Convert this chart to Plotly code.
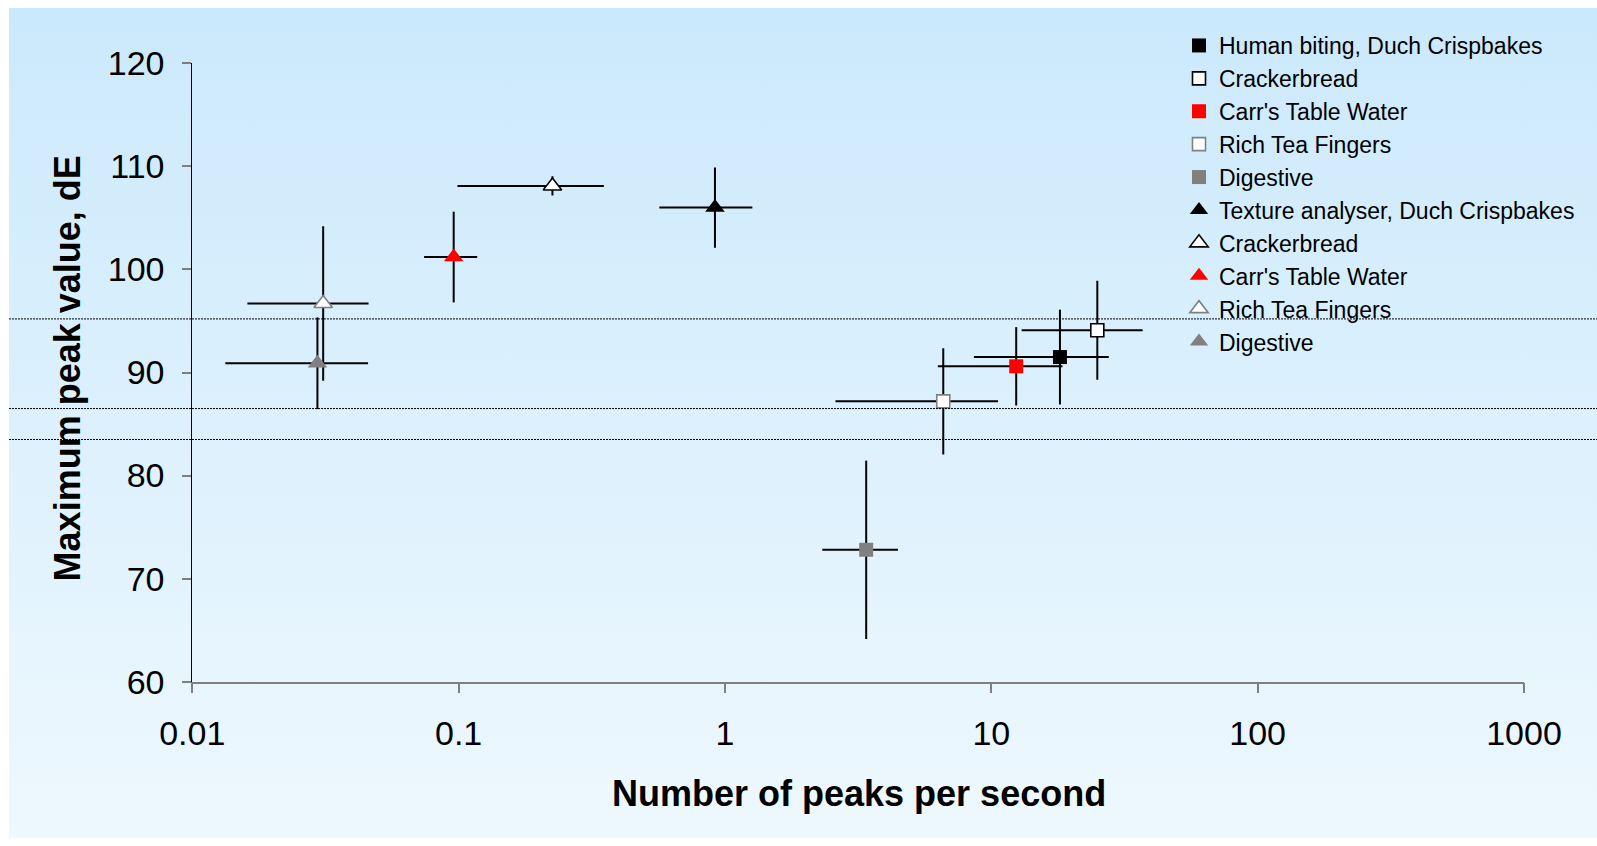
import plotly.graph_objects as go

# Maximum peak value versus number of peaks per second, for human biting
# (squares) and the texture analyser (triangles).
bite_names = ["Human biting, Duch Crispbakes", "Crackerbread", "Carr's Table Water",
              "Rich Tea Fingers", "Digestive"]
ta_names = ["Texture analyser, Duch Crispbakes", "Crackerbread", "Carr's Table Water",
            "Rich Tea Fingers", "Digestive"]

bite_rate = [18.1, 25.0, 12.4, 6.6, 3.39]
bite_rate_err = [9.5, 12.0, 6.1, 4.0, 1.07]
bite_peak = [91.5, 94.1, 90.6, 87.2, 72.8]
bite_peak_err = [4.6, 4.8, 3.8, 5.15, 8.65]

ta_rate = [0.917, 0.225, 0.0958, 0.031, 0.0295]
ta_rate_err = [0.35, 0.126, 0.0216, 0.0149, 0.0162]
ta_peak = [106.0, 108.1, 101.2, 96.7, 90.9]
ta_peak_err = [3.9, 0.93, 4.4, 7.5, 4.45]

# horizontal reference levels, dE
ref_levels = [95.2, 86.5, 83.5]

x_ticks = [0.01, 0.1, 1, 10, 100, 1000]
x_tick_text = ["0.01", "0.1", "1", "10", "100", "1000"]
y_ticks = [60, 70, 80, 90, 100, 110, 120]

# marker styling per product
fill_colors = ["#000000", "#FFFFFF", "#FF0000", "#FFFFFF", "#808080"]
edge_colors = ["#000000", "#000000", "#FF0000", "#808080", "#808080"]
edge_widths = [0, 1.6, 0, 1.6, 0]

W, H = 1597, 846
FONT = "Liberation Sans, Arial, sans-serif"

fig = go.Figure()

# gradient backdrop on a full-page helper axis pair
fig.add_trace(go.Scatter(
    x=[9, W, W, 9, 9], y=[8, 8, 838, 838, 8],
    xaxis="x", yaxis="y", mode="lines", line=dict(width=0),
    fill="toself",
    fillgradient=dict(type="vertical", start=8, stop=838,
                      colorscale=[[0, "#CBE9FC"], [1, "#EEF8FE"]]),
    hoverinfo="skip", showlegend=False,
))


def err(vals):
    return dict(type="data", array=vals, color="black", thickness=2, width=0)


for i, name in enumerate(bite_names):
    open_marker = edge_widths[i] > 0
    fig.add_trace(go.Scatter(
        x=[bite_rate[i]], y=[bite_peak[i]], name=name, mode="markers",
        xaxis="x2", yaxis="y2",
        marker=dict(symbol="square", size=13 if open_marker else 14,
                    color=fill_colors[i],
                    line=dict(color=edge_colors[i], width=edge_widths[i])),
        error_x=err([bite_rate_err[i]]), error_y=err([bite_peak_err[i]]),
    ))

for i, name in enumerate(ta_names):
    open_marker = edge_widths[i] > 0
    fig.add_trace(go.Scatter(
        x=[ta_rate[i]], y=[ta_peak[i]], name=name, mode="markers",
        xaxis="x2", yaxis="y2",
        marker=dict(symbol="triangle-up", size=16 if open_marker else 17,
                    color=fill_colors[i],
                    line=dict(color=edge_colors[i], width=edge_widths[i])),
        error_x=err([ta_rate_err[i]]), error_y=err([ta_peak_err[i]]),
    ))

shapes = [
    dict(type="line", xref="paper", yref="y2", x0=9 / W, x1=1, y0=lv, y1=lv,
         line=dict(color="#000000", width=1, dash="2px,1px"), layer="above")
    for lv in ref_levels
]

x_dom = [192.3 / W, 1524.0 / W]
y_dom = [1 - 681.7 / H, 1 - 63.3 / H]

fig.update_layout(
    width=W, height=H,
    margin=dict(l=0, r=0, t=0, b=0, pad=0, autoexpand=False),
    paper_bgcolor="white", plot_bgcolor="rgba(0,0,0,0)",
    font=dict(family=FONT, color="black"),
    showlegend=True,
    legend=dict(x=1179 / W, xanchor="left", y=1 - 24 / H, yanchor="top",
                bgcolor="rgba(0,0,0,0)", borderwidth=0,
                font=dict(family=FONT, size=23, color="black"),
                itemsizing="trace", traceorder="normal"),
    xaxis=dict(domain=[0, 1], range=[0, W], visible=False, fixedrange=True),
    yaxis=dict(domain=[0, 1], range=[H, 0], visible=False, fixedrange=True),
    xaxis2=dict(type="log", range=[-2, 3], domain=x_dom, anchor="y2",
                showline=True, linecolor="#7F7F7F", linewidth=1.5,
                ticks="outside", ticklen=10, tickwidth=1.5, tickcolor="#7F7F7F",
                tickvals=x_ticks, ticktext=x_tick_text,
                tickfont=dict(family=FONT, size=34, color="black"),
                ticklabelstandoff=11,
                showgrid=False, zeroline=False),
    yaxis2=dict(range=[60, 120], domain=y_dom, anchor="x2",
                showline=True, linecolor="#000000", linewidth=1,
                ticks="outside", ticklen=9, tickwidth=1.5, tickcolor="#7F7F7F",
                tickvals=y_ticks,
                tickfont=dict(family=FONT, size=34, color="black"),
                ticklabelstandoff=11,
                showgrid=False, zeroline=False),
    shapes=shapes,
    annotations=[
        dict(text="<b>Number of peaks per second</b>", xref="paper", yref="paper",
             x=859 / W, y=1 - 793 / H, xanchor="center", yanchor="middle",
             showarrow=False, font=dict(family=FONT, size=36, color="black")),
        dict(text="<b>Maximum peak value, dE</b>", xref="paper", yref="paper",
             x=67 / W, y=1 - 368.4 / H, xanchor="center", yanchor="middle",
             textangle=-90, showarrow=False,
             font=dict(family=FONT, size=36, color="black")),
    ],
)

fig.write_html("out.html")
